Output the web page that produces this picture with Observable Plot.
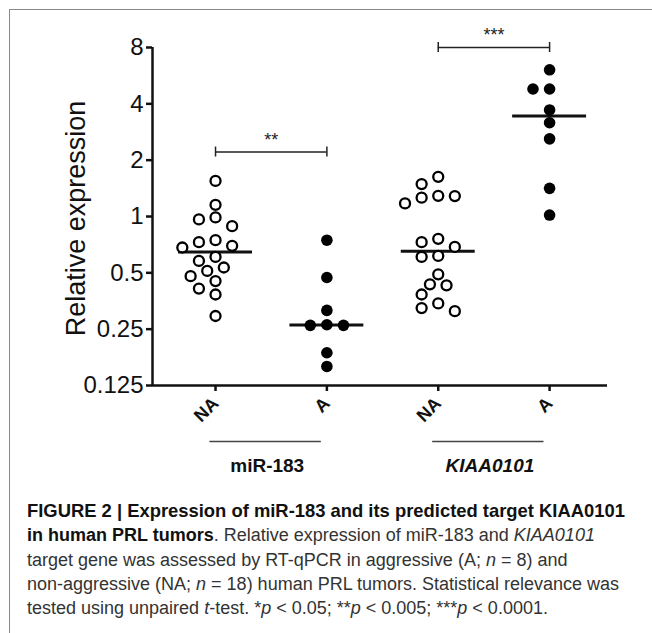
<!DOCTYPE html>
<html><head><meta charset="utf-8">
<script src="https://cdn.jsdelivr.net/npm/d3@7"></script>
<script src="https://cdn.jsdelivr.net/npm/@observablehq/plot@0.6"></script>
<style>
body{margin:0;background:#fff;font-family:"Liberation Sans",Arial,sans-serif;}
#panel{position:absolute;left:9px;top:9px;width:643px;height:624px;border-top:1.5px solid #8a8a8a;border-left:1.5px solid #8a8a8a;}
#chart{position:absolute;left:0;top:0;}
#caption{position:absolute;left:27px;top:499px;font-size:18px;line-height:24.3px;color:#333;white-space:nowrap;}
#caption b{color:#111}
#caption b.l{font-size:18.4px}
</style></head><body>
<div id="panel"></div>
<div id="chart"></div>
<div id="caption"><b class="l">FIGURE 2 | Expression of miR-183 and its predicted target KIAA0101</b><br><b>in human PRL tumors</b>. Relative expression of miR-183 and <i>KIAA0101</i><br>target gene was assessed by RT-qPCR in aggressive (A; <i>n</i> = 8) and<br>non-aggressive (NA; <i>n</i> = 18) human PRL tumors. Statistical relevance was<br>tested using unpaired <i>t</i>-test. *<i>p</i> &lt; 0.05; **<i>p</i> &lt; 0.005; ***<i>p</i> &lt; 0.0001.</div>
<script>
// ---- data ----
const categories = ["NA", "A", "NA", "A"];
const genes = ["miR-183", "KIAA0101"];
const miR183_NA = [1.55, 1.155, 0.989, 0.965, 0.888, 0.747, 0.729, 0.697, 0.683, 0.608, 0.579, 0.534, 0.512, 0.48, 0.452, 0.412, 0.383, 0.294];
const miR183_A = [0.747, 0.472, 0.315, 0.264, 0.262, 0.262, 0.187, 0.158];
const KIAA0101_NA = [1.63, 1.49, 1.29, 1.286, 1.26, 1.175, 0.76, 0.729, 0.688, 0.616, 0.608, 0.491, 0.434, 0.429, 0.383, 0.343, 0.324, 0.312];
const KIAA0101_A = [6.08, 4.8, 4.8, 3.71, 3.17, 2.6, 1.414, 1.018];
const yTicks = [0.125, 0.25, 0.5, 1, 2, 4, 8];
const yLabel = "Relative expression";
const sigFrom = [0, 2];
const sigTo = [1, 3];
const sigY = [2.21, 8];
const sigLabel = ["**", "***"];

// ---- layout ----
const W = 652, H = 480, mL = 152, mR = 45, mT = 47, mB = 95;
const xDom = [-0.566, 3.52];
const yScale = d3.scaleLog().base(2).domain([0.125, 8]).range([H - mB, mT]);
const pxPerUnit = (W - mL - mR) / (xDom[1] - xDom[0]);

const groups = [miR183_NA, miR183_A, KIAA0101_NA, KIAA0101_A];
const D = 12.6, step = 8.3;
const points = [];
groups.forEach((vals, i) => {
  const placed = [];
  [...vals].sort((a, b) => b - a).forEach(v => {
    const py = yScale(v);
    let off = 0;
    for (let k = 0; k < 40; k++) {
      const cand = k === 0 ? 0 : (k % 2 ? -1 : 1) * Math.ceil(k / 2) * step;
      if (placed.every(p => Math.hypot(p.px - cand, p.py - py) >= D)) { off = cand; break; }
    }
    placed.push({px: off, py});
    points.push({i, value: v, x: i + off / pxPerUnit, filled: i % 2 === 1});
  });
});
const medians = groups.map((vals, i) => ({i, m: d3.median(vals)}));
const sig = sigFrom.map((f, k) => ({from: f, to: sigTo[k], y: sigY[k], label: sigLabel[k]}));
const sigEnds = sig.flatMap(s => [{x: s.from, y: s.y}, {x: s.to, y: s.y}]);
const geneRows = genes.map((g, k) => ({k, g, c: k * 2}));

const plot = Plot.plot({
  width: W, height: H,
  marginLeft: mL, marginRight: mR, marginTop: mT, marginBottom: mB,
  style: {fontFamily: '"Liberation Sans", Arial, sans-serif', color: "#111", background: "transparent"},
  x: {type: "linear", domain: xDom, axis: null},
  y: {type: "log", base: 2, domain: [0.125, 8], axis: null},
  marks: [
    Plot.axisY({ticks: yTicks, tickFormat: d => String(d), tickSize: 6, tickPadding: 3, fontSize: 24, strokeWidth: 2.5, label: null}),
    Plot.text([yLabel], {frameAnchor: "left", text: d => d, rotate: -90, textAnchor: "middle", dx: -76, dy: 2, fontSize: 27, fill: "#111"}),
    Plot.axisX({ticks: [0, 1, 2, 3], tickFormat: i => categories[i], tickSize: 6, tickPadding: 9, tickRotate: -45, fontSize: 18, fontWeight: "bold", strokeWidth: 2.5, label: null}),
    Plot.ruleY([0.125], {strokeWidth: 2.5}),
    Plot.ruleX([xDom[0]], {strokeWidth: 2.5}),
    Plot.ruleY(medians, {y: "m", x1: d => d.i - 0.332, x2: d => d.i + 0.332, strokeWidth: 3}),
    Plot.dot(points.filter(d => !d.filled), {x: "x", y: "value", r: 5, stroke: "black", fill: "white", strokeWidth: 2.3}),
    Plot.dot(points.filter(d => d.filled), {x: "x", y: "value", r: 5.8, fill: "black"}),
    Plot.ruleY(sig, {y: "y", x1: "from", x2: "to", stroke: "#222", strokeWidth: 1.5}),
    Plot.ruleX(sigEnds, {x: "x", y1: "y", y2: "y", insetTop: -5, insetBottom: -5, stroke: "#222", strokeWidth: 1.5}),
    Plot.text(sig, {x: d => (d.from + d.to) / 2, y: "y", text: "label", dy: -12, fontSize: 18, fill: "#222"}),
    Plot.ruleY(geneRows, {y: () => 0.125, x1: d => d.c - 0.05, x2: d => d.c + 0.95, dy: 56, stroke: "#444", strokeWidth: 1.5}),
    Plot.text(geneRows.filter(d => d.k === 0), {x: d => d.c + 0.5, y: () => 0.125, text: "g", dy: 80, dx: -4, fontSize: 19, fontWeight: "bold", fill: "#111"}),
    Plot.text(geneRows.filter(d => d.k === 1), {x: d => d.c + 0.5, y: () => 0.125, text: "g", dy: 80, dx: -4, fontSize: 19, fontWeight: "bold", fontStyle: "italic", fill: "#111"})
  ]
});
document.getElementById("chart").appendChild(plot);
</script>
</body></html>
